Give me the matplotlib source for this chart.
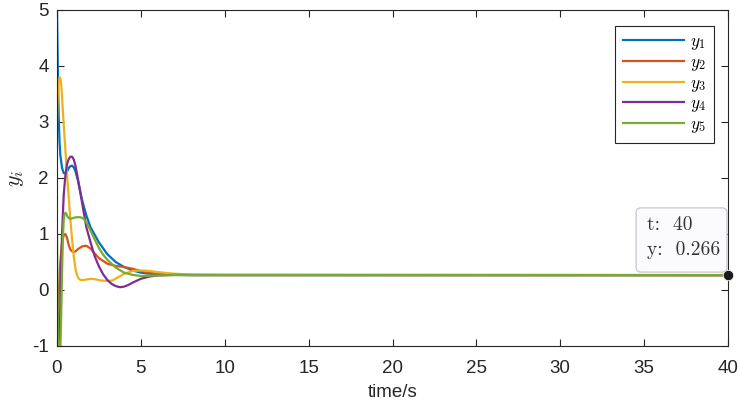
import matplotlib
matplotlib.use("Agg")
import matplotlib.pyplot as plt
from matplotlib.patches import FancyBboxPatch

plt.rcParams['font.family'] = ['Liberation Sans', 'DejaVu Sans']
plt.rcParams['mathtext.fontset'] = 'cm'

# ---- data ----
t1 = [0, 0.05, 0.1, 0.15, 0.2, 0.3, 0.4, 0.5, 0.6, 0.7, 0.8, 0.9, 1.0, 1.1, 1.25, 1.5, 1.75,
      2.0, 2.5, 3.0, 3.5, 4.0, 4.5, 5.0, 5.5, 6.0, 7.0, 8.0, 40]
y1 = [5.0, 3.9, 3.1, 2.65, 2.4, 2.18, 2.09, 2.08, 2.12, 2.18, 2.21, 2.22, 2.19, 2.12, 1.95, 1.6, 1.33,
      1.12, 0.85, 0.64, 0.5, 0.41, 0.35, 0.31, 0.29, 0.28, 0.27, 0.267, 0.266]

t2 = [0, 0.05, 0.1, 0.2, 0.3, 0.4, 0.5, 0.6, 0.7, 0.8, 0.9, 1.0, 1.1, 1.25, 1.5, 1.75, 2.0, 2.25,
      2.5, 3.0, 3.5, 4.0, 4.5, 5.0, 5.5, 6.0, 7.0, 8.0, 40]
y2 = [-1.5, -0.6, -0.1, 0.5, 0.85, 0.98, 1.0, 0.93, 0.8, 0.72, 0.69, 0.68, 0.69, 0.73, 0.78, 0.79, 0.74, 0.65,
      0.57, 0.47, 0.43, 0.41, 0.38, 0.34, 0.31, 0.29, 0.275, 0.268, 0.266]

t3 = [0, 0.05, 0.1, 0.15, 0.2, 0.25, 0.3, 0.4, 0.5, 0.6, 0.7, 0.8, 0.9, 1.0, 1.1, 1.2, 1.3, 1.4,
      1.6, 1.8, 2.0, 2.3, 2.6, 3.0, 3.3, 3.6, 4.0, 4.5, 5.0, 5.5, 6.0, 7.0, 8.0, 10.0, 40]
y3 = [3.0, 3.5, 3.72, 3.8, 3.78, 3.68, 3.45, 2.95, 2.5, 2.05, 1.65, 1.25, 0.9, 0.6, 0.38, 0.26, 0.2, 0.18,
      0.18, 0.19, 0.2, 0.19, 0.17, 0.16, 0.17, 0.22, 0.29, 0.34, 0.35, 0.34, 0.32, 0.29, 0.275, 0.268, 0.266]

t4 = [0, 0.05, 0.1, 0.15, 0.2, 0.25, 0.3, 0.4, 0.5, 0.6, 0.7, 0.8, 0.9, 1.0, 1.1, 1.25, 1.5, 1.75,
      2.0, 2.25, 2.5, 2.75, 3.0, 3.25, 3.5, 3.75, 4.0, 4.25, 4.5, 5.0, 5.5, 6.0, 7.0, 8.0, 40]
y4 = [0.0, -0.8, -1.3, -1.0, -0.3, 0.4, 1.0, 1.7, 2.05, 2.25, 2.34, 2.38, 2.38, 2.33, 2.22, 1.98, 1.55, 1.12,
      0.85, 0.6, 0.42, 0.28, 0.18, 0.11, 0.07, 0.05, 0.06, 0.09, 0.13, 0.2, 0.24, 0.26, 0.27, 0.268, 0.266]

t5 = [0, 0.03, 0.05, 0.08, 0.12, 0.18, 0.24, 0.3, 0.35, 0.4, 0.45, 0.5, 0.55, 0.65, 0.8, 0.9, 1.0, 1.2,
      1.4, 1.6, 1.8, 2.0, 2.25, 2.5, 2.75, 3.0, 3.5, 4.0, 4.5, 5.0, 5.5, 6.0, 7.0, 40]
y5 = [1.0, 0.0, -0.8, -1.0, -1.4, -1.3, -0.6, 0.3, 0.9, 1.25, 1.36, 1.38, 1.36, 1.3, 1.27, 1.28, 1.29, 1.3,
      1.3, 1.27, 1.18, 1.06, 0.9, 0.75, 0.63, 0.54, 0.4, 0.31, 0.27, 0.25, 0.255, 0.26, 0.266, 0.266]

series_t = [t1, t2, t3, t4, t5]
series_y = [y1, y2, y3, y4, y5]
labels = [r'$y_1$', r'$y_2$', r'$y_3$', r'$y_4$', r'$y_5$']
colors = ['#0072BD', '#D95319', '#EDB120', '#7E2F8E', '#77AC30']

x_ticks = [0, 5, 10, 15, 20, 25, 30, 35, 40]
y_ticks = [-1, 0, 1, 2, 3, 4, 5]
tip_t = 40
tip_y = 0.266

# ---- figure ----
fig = plt.figure(figsize=(7.4, 4.08), dpi=100)
ax = fig.add_axes([57/740, 1-346/408, (728-57)/740, (346-10)/408])

for t, y, lab, c in zip(series_t, series_y, labels, colors):
    ax.plot(t, y, color=c, lw=1.6, label=lab)

ax.set_xlim(0, 40)
ax.set_ylim(-1, 5)
ax.set_xticks(x_ticks)
ax.set_yticks(y_ticks)
ax.set_yticklabels([str(v) for v in y_ticks])
ax.tick_params(direction='in', length=5, width=0.8, top=True, right=True,
               labelsize=13.5, colors='#262626')
ax.tick_params(axis='x', pad=10)
ax.tick_params(axis='y', pad=6)
for s in ax.spines.values():
    s.set_color('#262626')
    s.set_linewidth(0.8)

ax.set_xlabel('time/s', fontsize=13.5, color='#262626', labelpad=5)
ax.set_ylabel(r'$y_i$', fontsize=16, color='#262626', labelpad=4)

leg = ax.legend(loc='upper right', bbox_to_anchor=(0.979, 0.952), fontsize=12.5,
                handlelength=3.5, handletextpad=0.35, labelspacing=0.15,
                borderpad=0.45, borderaxespad=0, fancybox=False, framealpha=1)
leg.get_frame().set_edgecolor('#262626')
leg.get_frame().set_linewidth(0.8)

# data tip
ax.plot([tip_t], [tip_y], 'o', color='#1a1a1a', ms=7.5, mec='#f0f0f0', mew=0.6,
        clip_on=False, zorder=10)
box = FancyBboxPatch((0.863, 0.220), 0.1355, 0.191, transform=ax.transAxes,
                     boxstyle='round,pad=0,rounding_size=0.007',
                     mutation_aspect=671/336, fc='#fbfbfd', ec='#c0c0c8', lw=0.8,
                     zorder=11, clip_on=False)
ax.add_patch(box)
ax.text(0.879, 0.360, f't:  {tip_t}', transform=ax.transAxes, fontsize=14,
        family='cmr10', color='#333333', va='center', ha='left', zorder=12)
ax.text(0.879, 0.285, f'y:  {tip_y}', transform=ax.transAxes, fontsize=14,
        family='cmr10', color='#333333', va='center', ha='left', zorder=12)

fig.savefig('out.png', dpi=100)
